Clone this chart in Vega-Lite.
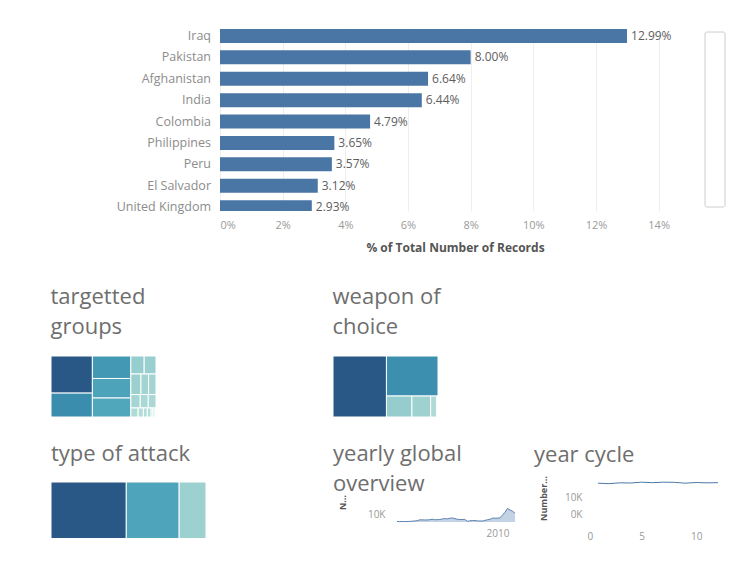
{
  "$schema": "https://vega.github.io/schema/vega-lite/v6.json",
  "background": "white",
  "padding": {"left": 50, "top": 28, "right": 5, "bottom": 5},
  "config": {
    "view": {"stroke": null},
    "font": "Open Sans",
    "title": {"anchor": "start", "fontSize": 22, "fontWeight": "normal", "color": "#6e6e6e", "lineHeight": 30, "font": "Open Sans"},
    "axis": {"labelFont": "Open Sans", "titleFont": "Open Sans"}
  },
  "datasets": {
    "countries": [
      {"country": "Iraq", "rank": 1, "pct": 0.1299},
      {"country": "Pakistan", "rank": 2, "pct": 0.0800},
      {"country": "Afghanistan", "rank": 3, "pct": 0.0664},
      {"country": "India", "rank": 4, "pct": 0.0644},
      {"country": "Colombia", "rank": 5, "pct": 0.0479},
      {"country": "Philippines", "rank": 6, "pct": 0.0365},
      {"country": "Peru", "rank": 7, "pct": 0.0357},
      {"country": "El Salvador", "rank": 8, "pct": 0.0312},
      {"country": "United Kingdom", "rank": 9, "pct": 0.0293}
    ],
    "treemaps": [
      {"chart": "tg", "name": "Private Citizens & Property", "col": 1, "row": 1, "value": 43511},
      {"chart": "tg", "name": "Military", "col": 1, "row": 2, "value": 27984},
      {"chart": "tg", "name": "Police", "col": 2, "row": 1, "value": 24506},
      {"chart": "tg", "name": "Government (General)", "col": 2, "row": 2, "value": 21283},
      {"chart": "tg", "name": "Business", "col": 2, "row": 3, "value": 20669},
      {"chart": "tg", "name": "Transportation", "col": 3, "row": 1, "value": 6799},
      {"chart": "tg", "name": "Utilities", "col": 3, "row": 1, "value": 6023},
      {"chart": "tg", "name": "Unknown", "col": 3, "row": 2, "value": 5898},
      {"chart": "tg", "name": "Religious Figures/Institutions", "col": 3, "row": 2, "value": 4440},
      {"chart": "tg", "name": "Educational Institution", "col": 3, "row": 2, "value": 4322},
      {"chart": "tg", "name": "Government (Diplomatic)", "col": 3, "row": 3, "value": 3573},
      {"chart": "tg", "name": "Terrorists/Non-State Militia", "col": 3, "row": 3, "value": 3039},
      {"chart": "tg", "name": "Journalists & Media", "col": 3, "row": 3, "value": 2948},
      {"chart": "tg", "name": "Violent Political Party", "col": 3, "row": 4, "value": 1866},
      {"chart": "tg", "name": "Airports & Aircraft", "col": 3, "row": 4, "value": 1343},
      {"chart": "tg", "name": "Telecommunication", "col": 3, "row": 4, "value": 1009},
      {"chart": "tg", "name": "NGO", "col": 3, "row": 4, "value": 970},
      {"chart": "tg", "name": "Tourists", "col": 3, "row": 4, "value": 440},
      {"chart": "tg", "name": "Maritime", "col": 3, "row": 4, "value": 351},
      {"chart": "tg", "name": "Food or Water Supply", "col": 3, "row": 4, "value": 317},
      {"chart": "tg", "name": "Other", "col": 3, "row": 4, "value": 137},
      {"chart": "wc", "name": "Explosives", "col": 1, "row": 1, "value": 92426},
      {"chart": "wc", "name": "Firearms", "col": 2, "row": 1, "value": 58524},
      {"chart": "wc", "name": "Unknown", "col": 2, "row": 2, "value": 15157},
      {"chart": "wc", "name": "Incendiary", "col": 2, "row": 2, "value": 11135},
      {"chart": "wc", "name": "Melee", "col": 2, "row": 2, "value": 3655},
      {"chart": "wc", "name": "Chemical", "col": 2, "row": 2, "value": 321},
      {"chart": "wc", "name": "Sabotage Equipment", "col": 2, "row": 2, "value": 141},
      {"chart": "wc", "name": "Vehicle", "col": 2, "row": 2, "value": 136},
      {"chart": "wc", "name": "Other", "col": 2, "row": 2, "value": 114},
      {"chart": "ta", "name": "Bombing/Explosion", "col": 1, "row": 1, "value": 88255},
      {"chart": "ta", "name": "Armed Assault", "col": 2, "row": 1, "value": 42669},
      {"chart": "ta", "name": "Assassination", "col": 2, "row": 2, "value": 19312},
      {"chart": "ta", "name": "Hostage Taking (Kidnapping)", "col": 3, "row": 1, "value": 11158},
      {"chart": "ta", "name": "Facility/Infrastructure Attack", "col": 3, "row": 2, "value": 10356},
      {"chart": "ta", "name": "Unknown", "col": 3, "row": 3, "value": 7276},
      {"chart": "ta", "name": "Unarmed Assault", "col": 3, "row": 4, "value": 1015},
      {"chart": "ta", "name": "Hostage Taking (Barricade Incident)", "col": 3, "row": 4, "value": 991},
      {"chart": "ta", "name": "Hijacking", "col": 3, "row": 4, "value": 659}
    ],
    "yearly": [
      {"year": 1970, "count": 651}, {"year": 1971, "count": 471}, {"year": 1972, "count": 568},
      {"year": 1973, "count": 473}, {"year": 1974, "count": 581}, {"year": 1975, "count": 740},
      {"year": 1976, "count": 923}, {"year": 1977, "count": 1319}, {"year": 1978, "count": 1526},
      {"year": 1979, "count": 2662}, {"year": 1980, "count": 2662}, {"year": 1981, "count": 2586},
      {"year": 1982, "count": 2544}, {"year": 1983, "count": 2870}, {"year": 1984, "count": 3495},
      {"year": 1985, "count": 2915}, {"year": 1986, "count": 2860}, {"year": 1987, "count": 3183},
      {"year": 1988, "count": 3721}, {"year": 1989, "count": 4324}, {"year": 1990, "count": 3887},
      {"year": 1991, "count": 4683}, {"year": 1992, "count": 5071}, {"year": 1994, "count": 3456},
      {"year": 1995, "count": 3081}, {"year": 1996, "count": 3058}, {"year": 1997, "count": 3197},
      {"year": 1998, "count": 934}, {"year": 1999, "count": 1395}, {"year": 2000, "count": 1814},
      {"year": 2001, "count": 1906}, {"year": 2002, "count": 1333}, {"year": 2003, "count": 1278},
      {"year": 2004, "count": 1166}, {"year": 2005, "count": 2017}, {"year": 2006, "count": 2758},
      {"year": 2007, "count": 3242}, {"year": 2008, "count": 4805}, {"year": 2009, "count": 4721},
      {"year": 2010, "count": 4826}, {"year": 2011, "count": 5076}, {"year": 2012, "count": 8522},
      {"year": 2013, "count": 12036}, {"year": 2014, "count": 16903}, {"year": 2015, "count": 14965},
      {"year": 2016, "count": 13587}, {"year": 2017, "count": 10900}
    ],
    "monthly": [
      {"month": 1, "count": 18300}, {"month": 2, "count": 18000}, {"month": 3, "count": 18500},
      {"month": 4, "count": 18400}, {"month": 5, "count": 18900}, {"month": 6, "count": 18600},
      {"month": 7, "count": 18900}, {"month": 8, "count": 18800}, {"month": 9, "count": 18300},
      {"month": 10, "count": 18700}, {"month": 11, "count": 18500}, {"month": 12, "count": 18600}
    ]
  },
  "concat": [
    {
      "concat": [
        {
          "width": 1,
          "height": 1,
          "data": {"values": [{}]},
          "mark": {"type": "rect", "opacity": 0},
          "encoding": {}
        },
        {
          "concat": [
            {
              "width": 470,
              "height": 183,
              "data": {"name": "countries"},
              "encoding": {
                "y": {
                  "field": "rank", "type": "quantitative",
                  "scale": {"domain": [0.63, 9.18], "reverse": true, "nice": false, "zero": false, "padding": 0},
                  "axis": {"title": null, "labels": false, "ticks": false, "domain": false, "grid": false, "minExtent": 168, "maxExtent": 168}
                }
              },
              "layer": [
                {
                  "mark": {"type": "bar", "orient": "horizontal", "size": 14, "color": "#4a76a6", "clip": true},
                  "encoding": {
                    "x": {
                      "field": "pct", "type": "quantitative",
                      "scale": {"domain": [0, 0.15], "nice": false},
                      "axis": {
                        "values": [0, 0.02, 0.04, 0.06, 0.08, 0.10, 0.12, 0.14],
                        "format": ".0%",
                        "title": "% of Total Number of Records",
                        "grid": true, "gridColor": "#eeeeee",
                        "ticks": false, "tickSize": 0, "domain": false,
                        "labelFontSize": 11, "labelColor": "#9a9a9a", "labelPadding": 8,
                        "titleFontSize": 12, "titleFontWeight": "bold", "titleColor": "#555555", "titlePadding": 12
                      }
                    }
                  }
                },
                {
                  "mark": {"type": "text", "align": "left", "baseline": "middle", "dx": 4, "fontSize": 12, "color": "#5e5e5e", "clip": true},
                  "encoding": {
                    "x": {"field": "pct", "type": "quantitative"},
                    "text": {"field": "pct", "type": "quantitative", "format": ".2%"}
                  }
                },
                {
                  "mark": {"type": "text", "align": "right", "baseline": "middle", "dx": -9, "fontSize": 12.5, "color": "#8c8c8c"},
                  "encoding": {
                    "x": {"datum": 0, "type": "quantitative"},
                    "text": {"field": "country", "type": "nominal"}
                  }
                }
              ]
            },
            {
              "width": 20,
              "height": 179,
              "data": {"values": [{"lo": 0, "hi": 1}]},
              "mark": {"type": "rect", "fill": "white", "stroke": "#cccccc", "strokeWidth": 1, "cornerRadius": 2},
              "encoding": {
                "x": {"field": "lo", "type": "quantitative", "scale": {"domain": [0, 1], "nice": false}, "axis": null},
                "x2": {"field": "hi"},
                "y": {"field": "lo", "type": "quantitative", "scale": {"domain": [0, 1.023], "nice": false}, "axis": null},
                "y2": {"field": "hi"}
              }
            }
          ],
          "spacing": 14,
          "align": "none"
        }
      ],
      "spacing": 0,
      "align": "none"
    },
    {
      "concat": [
        {
          "concat": [
            {
              "width": 105,
              "height": 61,
              "title": {"text": ["targetted", "groups"], "offset": 17},
              "data": {"name": "treemaps"},
              "transform": [
                {"filter": "datum.chart === 'tg'"},
                {"joinaggregate": [{"op": "sum", "field": "value", "as": "total"}, {"op": "max", "field": "value", "as": "maxv"}]},
                {"joinaggregate": [{"op": "sum", "field": "value", "as": "colTotal"}], "groupby": ["col"]},
                {"joinaggregate": [{"op": "sum", "field": "value", "as": "rowTotal"}], "groupby": ["col", "row"]},
                {"window": [{"op": "sum", "field": "value", "as": "colEnd"}], "sort": [{"field": "col"}], "frame": [null, 0], "ignorePeers": false},
                {"window": [{"op": "sum", "field": "value", "as": "rowEnd"}], "groupby": ["col"], "sort": [{"field": "row"}], "frame": [null, 0], "ignorePeers": false},
                {"window": [{"op": "sum", "field": "value", "as": "cellEnd"}], "groupby": ["col", "row"], "sort": [{"field": "value", "order": "descending"}], "frame": [null, 0], "ignorePeers": true},
                {"calculate": "datum.value / datum.maxv", "as": "share"},
                {"calculate": "(datum.colEnd - datum.colTotal + (datum.cellEnd - datum.value) / datum.rowTotal * datum.colTotal) / datum.total", "as": "x1"},
                {"calculate": "(datum.colEnd - datum.colTotal + datum.cellEnd / datum.rowTotal * datum.colTotal) / datum.total", "as": "x2"},
                {"calculate": "(datum.rowEnd - datum.rowTotal) / datum.colTotal", "as": "y1"},
                {"calculate": "datum.rowEnd / datum.colTotal", "as": "y2"}
              ],
              "mark": {"type": "rect", "stroke": "white", "strokeWidth": 1},
              "encoding": {
                "x": {"field": "x1", "type": "quantitative", "scale": {"domain": [0, 1], "nice": false}, "axis": null},
                "x2": {"field": "x2"},
                "y": {"field": "y1", "type": "quantitative", "scale": {"domain": [0, 1], "reverse": true, "nice": false}, "axis": null},
                "y2": {"field": "y2"},
                "color": {"field": "share", "type": "quantitative", "scale": {"domain": [0, 0.5, 1], "range": ["#b8e0db", "#4aa3ba", "#2a5886"]}, "legend": null},
                "tooltip": [{"field": "name", "type": "nominal"}, {"field": "value", "type": "quantitative"}]
              }
            },
            {
              "width": 105,
              "height": 61,
              "title": {"text": ["weapon of", "choice"], "offset": 17},
              "data": {"name": "treemaps"},
              "transform": [
                {"filter": "datum.chart === 'wc'"},
                {"joinaggregate": [{"op": "sum", "field": "value", "as": "total"}, {"op": "max", "field": "value", "as": "maxv"}]},
                {"joinaggregate": [{"op": "sum", "field": "value", "as": "colTotal"}], "groupby": ["col"]},
                {"joinaggregate": [{"op": "sum", "field": "value", "as": "rowTotal"}], "groupby": ["col", "row"]},
                {"window": [{"op": "sum", "field": "value", "as": "colEnd"}], "sort": [{"field": "col"}], "frame": [null, 0], "ignorePeers": false},
                {"window": [{"op": "sum", "field": "value", "as": "rowEnd"}], "groupby": ["col"], "sort": [{"field": "row"}], "frame": [null, 0], "ignorePeers": false},
                {"window": [{"op": "sum", "field": "value", "as": "cellEnd"}], "groupby": ["col", "row"], "sort": [{"field": "value", "order": "descending"}], "frame": [null, 0], "ignorePeers": true},
                {"calculate": "datum.value / datum.maxv", "as": "share"},
                {"calculate": "(datum.colEnd - datum.colTotal + (datum.cellEnd - datum.value) / datum.rowTotal * datum.colTotal) / datum.total", "as": "x1"},
                {"calculate": "(datum.colEnd - datum.colTotal + datum.cellEnd / datum.rowTotal * datum.colTotal) / datum.total", "as": "x2"},
                {"calculate": "(datum.rowEnd - datum.rowTotal) / datum.colTotal", "as": "y1"},
                {"calculate": "datum.rowEnd / datum.colTotal", "as": "y2"}
              ],
              "mark": {"type": "rect", "stroke": "white", "strokeWidth": 1},
              "encoding": {
                "x": {"field": "x1", "type": "quantitative", "scale": {"domain": [0, 1], "nice": false}, "axis": null},
                "x2": {"field": "x2"},
                "y": {"field": "y1", "type": "quantitative", "scale": {"domain": [0, 1], "reverse": true, "nice": false}, "axis": null},
                "y2": {"field": "y2"},
                "color": {"field": "share", "type": "quantitative", "scale": {"domain": [0, 0.5, 1], "range": ["#b8e0db", "#4aa3ba", "#2a5886"]}, "legend": null},
                "tooltip": [{"field": "name", "type": "nominal"}, {"field": "value", "type": "quantitative"}]
              }
            }
          ],
          "spacing": 175,
          "align": "none"
        },
        {
          "concat": [
            {
              "width": 155,
              "height": 56,
              "title": {"text": "type of attack", "offset": 16},
              "data": {"name": "treemaps"},
              "transform": [
                {"filter": "datum.chart === 'ta'"},
                {"joinaggregate": [{"op": "sum", "field": "value", "as": "total"}, {"op": "max", "field": "value", "as": "maxv"}]},
                {"joinaggregate": [{"op": "sum", "field": "value", "as": "colTotal"}], "groupby": ["col"]},
                {"joinaggregate": [{"op": "sum", "field": "value", "as": "rowTotal"}], "groupby": ["col", "row"]},
                {"window": [{"op": "sum", "field": "value", "as": "colEnd"}], "sort": [{"field": "col"}], "frame": [null, 0], "ignorePeers": false},
                {"window": [{"op": "sum", "field": "value", "as": "rowEnd"}], "groupby": ["col"], "sort": [{"field": "row"}], "frame": [null, 0], "ignorePeers": false},
                {"window": [{"op": "sum", "field": "value", "as": "cellEnd"}], "groupby": ["col", "row"], "sort": [{"field": "value", "order": "descending"}], "frame": [null, 0], "ignorePeers": true},
                {"calculate": "datum.value / datum.maxv", "as": "share"},
                {"calculate": "(datum.colEnd - datum.colTotal + (datum.cellEnd - datum.value) / datum.rowTotal * datum.colTotal) / datum.total", "as": "x1"},
                {"calculate": "(datum.colEnd - datum.colTotal + datum.cellEnd / datum.rowTotal * datum.colTotal) / datum.total", "as": "x2"},
                {"calculate": "(datum.rowEnd - datum.rowTotal) / datum.colTotal", "as": "y1"},
                {"calculate": "datum.rowEnd / datum.colTotal", "as": "y2"}
              ],
              "mark": {"type": "rect", "stroke": "white", "strokeWidth": 1, "clip": true},
              "encoding": {
                "x": {"field": "x1", "type": "quantitative", "scale": {"domain": [0, 1], "nice": false}, "axis": null},
                "x2": {"field": "x2"},
                "y": {"field": "y1", "type": "quantitative", "scale": {"domain": [0, 0.3], "reverse": true, "nice": false}, "axis": null},
                "y2": {"field": "y2"},
                "color": {"field": "share", "type": "quantitative", "scale": {"domain": [0, 0.5, 1], "range": ["#b8e0db", "#4aa3ba", "#2a5886"]}, "legend": null},
                "tooltip": [{"field": "name", "type": "nominal"}, {"field": "value", "type": "quantitative"}]
              }
            },
            {
              "concat": [
                {
                  "width": 118,
                  "height": 40,
                  "title": {"text": ["yearly global", "overview"], "offset": -14, "dx": -5},
                  "data": {"name": "yearly"},
                  "mark": {"type": "area", "color": "#a9bfd8", "line": {"color": "#5b82b0", "strokeWidth": 1}},
                  "encoding": {
                    "x": {
                      "field": "year", "type": "quantitative",
                      "scale": {"domain": [1970, 2017], "nice": false, "zero": false},
                      "axis": {"values": [2010], "format": "d", "title": null, "grid": false, "ticks": false, "domain": false, "labelFontSize": 10, "labelColor": "#999999", "labelPadding": 6}
                    },
                    "y": {
                      "field": "count", "type": "quantitative",
                      "scale": {"domain": [0, 50000], "nice": false},
                      "axis": {
                        "values": [10000], "labelExpr": "format(datum.value / 1000, 'd') + 'K'",
                        "title": "Number of Records", "titleLimit": 17, "titleFontSize": 9, "titleFontWeight": "bold", "titleColor": "#555555", "titlePadding": 6,
                        "grid": false, "ticks": false, "domain": false,
                        "labelFontSize": 10, "labelColor": "#999999", "labelPadding": 12,
                        "minExtent": 44, "maxExtent": 44
                      }
                    }
                  }
                },
                {
                  "width": 131,
                  "height": 32,
                  "title": {"text": "year cycle", "offset": 9, "dx": -5},
                  "data": {"name": "monthly"},
                  "mark": {"type": "line", "color": "#4e79a7", "strokeWidth": 1},
                  "encoding": {
                    "x": {
                      "field": "month", "type": "quantitative",
                      "scale": {"domain": [0, 12], "nice": false},
                      "axis": {"values": [0, 5, 10], "title": null, "grid": false, "ticks": false, "domain": false, "labelFontSize": 10, "labelColor": "#999999", "labelPadding": 17}
                    },
                    "y": {
                      "field": "count", "type": "quantitative",
                      "scale": {"domain": [0, 19000], "nice": false},
                      "axis": {
                        "values": [0, 10000], "labelExpr": "format(datum.value / 1000, 'd') + 'K'",
                        "title": "Number of Records", "titleLimit": 45, "titleFontSize": 9, "titleFontWeight": "bold", "titleColor": "#555555", "titlePadding": 6,
                        "grid": false, "ticks": false, "domain": false,
                        "labelFontSize": 10, "labelColor": "#999999", "labelPadding": 5,
                        "minExtent": 33, "maxExtent": 33
                      }
                    }
                  }
                }
              ],
              "spacing": 17,
              "align": "none"
            }
          ],
          "spacing": 127,
          "align": "none"
        }
      ],
      "columns": 1,
      "spacing": 25,
      "align": "none"
    }
  ],
  "columns": 1,
  "spacing": 32,
  "align": "none"
}
